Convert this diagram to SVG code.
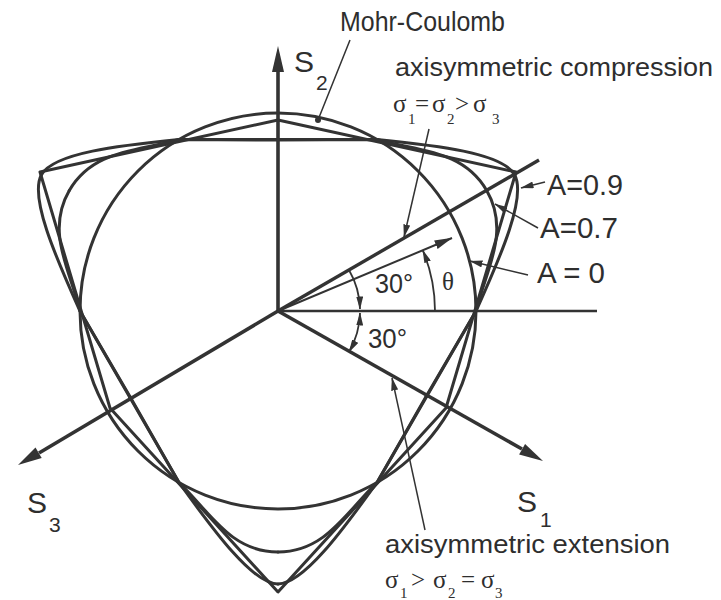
<svg xmlns="http://www.w3.org/2000/svg" width="721" height="600" viewBox="0 0 721 600">
<style>
.c{fill:none;stroke:#333;stroke-width:3;stroke-linejoin:round;stroke-linecap:round}
.ax{stroke:#333;stroke-width:3.6;fill:none}
.ah{fill:#333;stroke:none}
.ld{stroke:#333;stroke-width:1.5;fill:none}
.ar{stroke:#333;stroke-width:1.8;fill:none}
.t{font-family:"Liberation Sans",Arial,sans-serif;fill:#2e2e2e}
.s{font-family:"Liberation Serif","Times New Roman",serif;fill:#2e2e2e}
</style>
<defs>
<marker id="sa" viewBox="0 0 13 7" refX="12.5" refY="3.5" markerWidth="13" markerHeight="7" orient="auto-start-reverse" markerUnits="userSpaceOnUse"><path d="M0,0 L13,3.5 L0,7 z" fill="#333"/></marker>
<marker id="ma" viewBox="0 0 18 9" refX="17.5" refY="4.5" markerWidth="18" markerHeight="9" orient="auto" markerUnits="userSpaceOnUse"><path d="M0,0 L18,4.5 L0,9 z" fill="#333"/></marker>
<path id="p9" d="M0,-171 L99,-171.5 C159,-165.5 223.9,-158.2 236.4,-136.5"/>
<path id="p7" d="M0,-171.5 L99,-171.5 C139,-159.5 184.7,-162.1 208.7,-120.5"/>
</defs>
<rect width="721" height="600" fill="#fff"/>

<g id="yield-surfaces">
  <circle id="A0" cx="278" cy="311" r="198" class="c"/>
  <polygon id="mohr-coulomb" points="40,172 278,120 516,172 446,408 278,592 110,408" class="c"/>
  <g id="A09" transform="translate(278,311)" class="c">
    <use href="#p9"/><use href="#p9" transform="scale(-1,1)"/>
    <use href="#p9" transform="rotate(120)"/><use href="#p9" transform="rotate(120) scale(-1,1)"/>
    <use href="#p9" transform="rotate(240)"/><use href="#p9" transform="rotate(240) scale(-1,1)"/>
  </g>
  <g id="A07" transform="translate(278,311)" class="c">
    <use href="#p7"/><use href="#p7" transform="scale(-1,1)"/>
    <use href="#p7" transform="rotate(120)"/><use href="#p7" transform="rotate(120) scale(-1,1)"/>
    <use href="#p7" transform="rotate(240)"/><use href="#p7" transform="rotate(240) scale(-1,1)"/>
  </g>
</g>

<g id="axes">
  <line x1="278" y1="311" x2="278" y2="70" class="ax"/>
  <polygon points="278,46 272,72 284,72" class="ah"/>
  <line x1="278" y1="311" x2="39" y2="453" class="ax"/>
  <polygon points="18,465 41.7,458 35.5,447.6" class="ah"/>
  <line x1="278" y1="311" x2="522" y2="449" class="ax"/>
  <polygon points="543,461 519.1,454.4 525.1,444" class="ah"/>
  <line x1="278" y1="311" x2="597" y2="311" stroke="#333" stroke-width="2.6"/>
  <line x1="278" y1="311" x2="539" y2="160" stroke="#333" stroke-width="3.4"/>
  <line x1="278" y1="311" x2="452" y2="238" stroke="#333" stroke-width="2" marker-end="url(#ma)"/>
</g>

<g id="angles">
  <path d="M435,311 A157,157 0 0 0 422.8,250.3" class="ar" marker-end="url(#sa)"/>
  <path d="M349,270 A82,82 0 0 1 360,309" class="ar" marker-end="url(#sa)"/>
  <path d="M360,313 A82,82 0 0 1 349,352" class="ar" marker-start="url(#sa)" marker-end="url(#sa)"/>
</g>

<g id="connectors">
  <line x1="350" y1="40" x2="318" y2="120" class="ld"/>
  <circle cx="318" cy="120" r="3" fill="#333"/>
  <line x1="429" y1="129" x2="404" y2="237" class="ld" marker-end="url(#sa)"/>
  <line x1="425" y1="530" x2="392" y2="378" class="ld" marker-end="url(#sa)"/>
  <line x1="545" y1="182" x2="521" y2="188" class="ld" marker-end="url(#sa)"/>
  <line x1="538" y1="228" x2="495" y2="204" class="ld" marker-end="url(#sa)"/>
  <line x1="528" y1="275" x2="470" y2="261" class="ld" marker-end="url(#sa)"/>
</g>

<g id="labels">
  <g id="lbl-mc"><text class="t" x="340" y="31" font-size="28" textLength="165" lengthAdjust="spacingAndGlyphs">Mohr-Coulomb</text></g>
  <g id="lbl-comp">
    <text class="t" x="395" y="76" font-size="25" textLength="318" lengthAdjust="spacingAndGlyphs">axisymmetric compression</text>
    <text class="s" font-size="25"><tspan x="393" y="112">σ</tspan><tspan x="408" y="124" font-size="15">1</tspan><tspan x="415" y="112">=</tspan><tspan x="432" y="112">σ</tspan><tspan x="447" y="124" font-size="15">2</tspan><tspan x="455" y="112">&gt;</tspan><tspan x="473" y="112">σ</tspan><tspan x="492" y="124" font-size="15">3</tspan></text>
  </g>
  <g id="lbl-ext">
    <text class="t" x="385" y="553" font-size="25" textLength="285" lengthAdjust="spacingAndGlyphs">axisymmetric extension</text>
    <text class="s" font-size="25"><tspan x="385" y="588">σ</tspan><tspan x="400" y="598" font-size="15">1</tspan><tspan x="411" y="588">&gt;</tspan><tspan x="433" y="588">σ</tspan><tspan x="448" y="598" font-size="15">2</tspan><tspan x="461" y="588">=</tspan><tspan x="481" y="588">σ</tspan><tspan x="495" y="598" font-size="15">3</tspan></text>
  </g>
  <g id="lbl-s2"><text class="t" x="294" y="72" font-size="30">S</text><text class="t" x="316" y="90" font-size="21">2</text></g>
  <g id="lbl-s3"><text class="t" x="27" y="513" font-size="30">S</text><text class="t" x="49" y="532" font-size="21">3</text></g>
  <g id="lbl-s1"><text class="t" x="517" y="512" font-size="30">S</text><text class="t" x="540" y="527" font-size="21">1</text></g>
  <g id="lbl-a09"><text class="t" x="547" y="195" font-size="29" textLength="76" lengthAdjust="spacingAndGlyphs">A=0.9</text></g>
  <g id="lbl-a07"><text class="t" x="540" y="238" font-size="29" textLength="78" lengthAdjust="spacingAndGlyphs">A=0.7</text></g>
  <g id="lbl-a0"><text class="t" x="537" y="283" font-size="29" textLength="68" lengthAdjust="spacingAndGlyphs">A = 0</text></g>
  <g id="lbl-30a"><text class="t" x="375" y="293" font-size="28" textLength="38" lengthAdjust="spacingAndGlyphs">30°</text></g>
  <g id="lbl-30b"><text class="t" x="368" y="348" font-size="28" textLength="39" lengthAdjust="spacingAndGlyphs">30°</text></g>
  <g id="lbl-theta"><text class="s" x="442" y="290" font-size="25">θ</text></g>
</g>
</svg>
